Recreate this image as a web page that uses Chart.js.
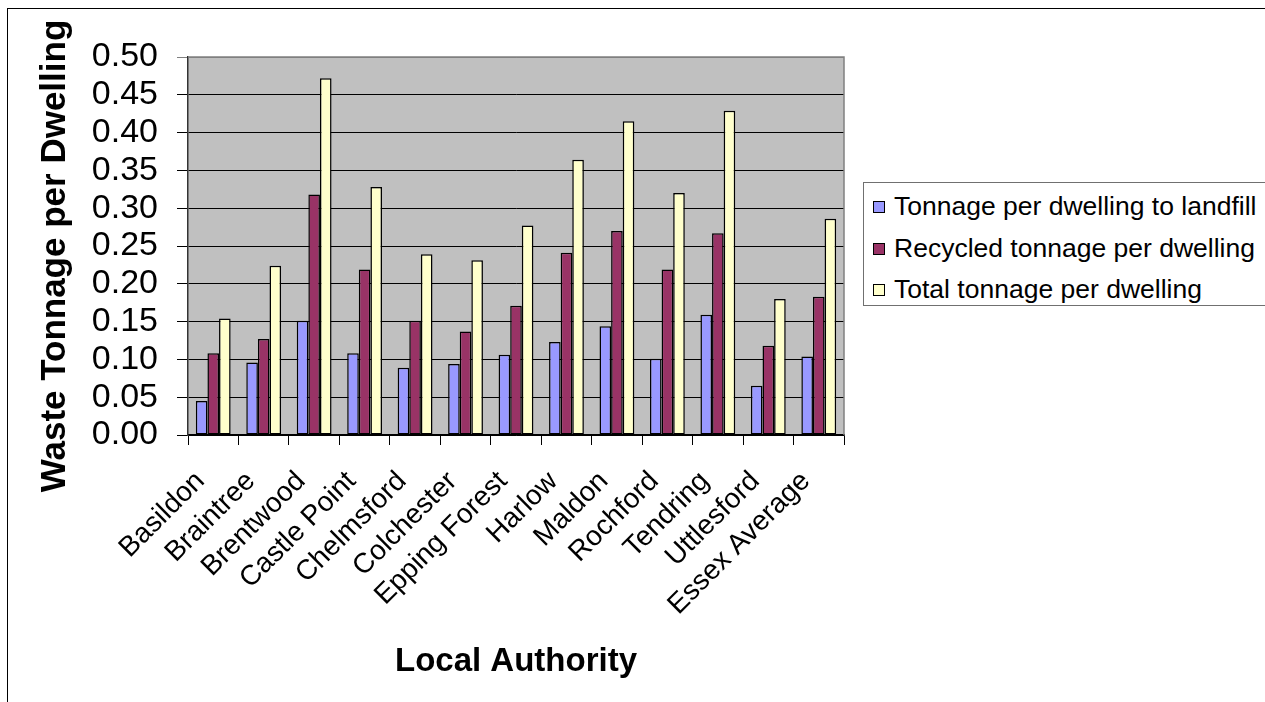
<!DOCTYPE html>
<html>
<head>
<meta charset="utf-8">
<script src="https://cdn.jsdelivr.net/npm/chart.js@4.4.1/dist/chart.umd.min.js"></script>
<style>
  html, body { margin: 0; padding: 0; background: #fff; }
  #wrap { position: relative; width: 1265px; height: 702px; overflow: hidden; font-family: "Liberation Sans", Arial, sans-serif; }
  #frame { position: absolute; left: 7px; top: 8px; width: 1400px; height: 800px; border-top: 1.5px solid #000; border-left: 1.5px solid #000; }
  #chart { position: absolute; left: 0; top: 0; }
  #legend { position: absolute; left: 863px; top: 182px; width: 420px; height: 124px; border: 1px solid #707070; background: #fff; box-sizing: border-box; }
  .item { position: absolute; left: 9px; height: 30px; line-height: 30px; font-size: 26.5px; color: #000; white-space: nowrap; }
  .sw { position: absolute; left: 0; top: 10px; width: 10px; height: 10px; border: 1px solid #000; }
  .lbl { position: absolute; left: 21px; top: 0; }
</style>
</head>
<body>
<div id="wrap">
  <div id="frame"></div>
  <canvas id="chart" width="1265" height="702"></canvas>
  <div id="legend"></div>
</div>
<script>
// Waste tonnage per dwelling by Essex local authority
const categories = ["Basildon", "Braintree", "Brentwood", "Castle Point", "Chelmsford", "Colchester",
  "Epping Forest", "Harlow", "Maldon", "Rochford", "Tendring", "Uttlesford", "Essex Average"];
const seriesNames = ["Tonnage per dwelling to landfill", "Recycled tonnage per dwelling", "Total tonnage per dwelling"];
const landfill = [0.045, 0.096, 0.151, 0.108, 0.089, 0.094, 0.106, 0.123, 0.144, 0.101, 0.159, 0.065, 0.104];
const recycled = [0.108, 0.127, 0.318, 0.219, 0.151, 0.137, 0.171, 0.241, 0.270, 0.219, 0.267, 0.118, 0.183];
const total = [0.154, 0.224, 0.472, 0.328, 0.239, 0.231, 0.277, 0.364, 0.415, 0.320, 0.429, 0.180, 0.286];
const yTicks = [0, 0.05, 0.10, 0.15, 0.20, 0.25, 0.30, 0.35, 0.40, 0.45, 0.50];
const colors = ["#9999FF", "#993366", "#FFFFCC"];

const FONT = '"Liberation Sans", Arial, sans-serif';

// grey plot background and frame around the chart area
const plotFrame = {
  id: 'plotFrame',
  beforeDraw(chart) {
    const { ctx, chartArea: a } = chart;
    ctx.save();
    ctx.fillStyle = '#C0C0C0';
    ctx.fillRect(a.left, a.top, a.right - a.left, a.bottom - a.top);
    ctx.restore();
  },
  afterDatasetsDraw(chart) {
    const { ctx, chartArea: a } = chart;
    ctx.save();
    ctx.strokeStyle = '#808080';
    ctx.lineWidth = 1.5;
    ctx.beginPath();
    ctx.moveTo(a.left, a.top);
    ctx.lineTo(a.right, a.top);
    ctx.lineTo(a.right, a.bottom);
    ctx.stroke();
    ctx.restore();
  }
};

// axis titles
const axisTitles = {
  id: 'axisTitles',
  afterDraw(chart) {
    const { ctx, chartArea: a } = chart;
    ctx.save();
    ctx.fillStyle = '#000';
    ctx.textAlign = 'center';
    ctx.textBaseline = 'alphabetic';
    ctx.font = 'bold 33px ' + FONT;
    ctx.fillText('Local Authority', (a.left + a.right) / 2, 671);
    ctx.font = 'bold 35px ' + FONT;
    ctx.translate(65, (a.top + a.bottom) / 2 + 10);
    ctx.rotate(-Math.PI / 2);
    ctx.fillText('Waste Tonnage per Dwelling', 0, 0);
    ctx.restore();
  }
};

const datasets = [landfill, recycled, total].map((vals, i) => ({
  label: seriesNames[i],
  data: vals,
  backgroundColor: colors[i],
  borderColor: '#000',
  borderWidth: 1.5,
  borderSkipped: false,
  barPercentage: 1.0,
  categoryPercentage: 0.69
}));

const chart = new Chart(document.getElementById('chart'), {
  type: 'bar',
  data: { labels: categories, datasets },
  options: {
    responsive: false,
    animation: false,
    devicePixelRatio: 1,
    layout: { padding: { left: 0, top: 57, right: 421, bottom: 0 } },
    plugins: { legend: { display: false }, tooltip: { enabled: false } },
    scales: {
      x: {
        afterFit(s) { s.height = 267; },
        grid: { offset: true, drawOnChartArea: false, drawTicks: true, tickLength: 10, color: '#000', lineWidth: 1 },
        border: { color: '#000', width: 1.5 },
        ticks: { minRotation: 45, maxRotation: 45, autoSkip: false, padding: 20, labelOffset: -13, color: '#000', font: { family: FONT, size: 28 } }
      },
      y: {
        min: 0, max: 0.5,
        afterFit(s) { s.width = 188; },
        afterBuildTicks(s) { s.ticks = yTicks.map(v => ({ value: v })); },
        grid: {
          color: c => (c.tick && c.tick.value === 0.5) ? '#808080' : '#000',
          lineWidth: 1, tickLength: 11, drawTicks: true
        },
        border: { color: '#333', width: 1.5 },
        ticks: { autoSkip: false, padding: 19, color: '#000', font: { family: FONT, size: 34 }, callback: v => Number(v).toFixed(2) }
      }
    }
  },
  plugins: [plotFrame, axisTitles]
});

// legend built from the chart's datasets
const legend = document.getElementById('legend');
chart.data.datasets.forEach((ds, i) => {
  const item = document.createElement('div');
  item.className = 'item';
  item.style.top = (8 + i * 41.5) + 'px';
  const sw = document.createElement('div');
  sw.className = 'sw';
  sw.style.background = ds.backgroundColor;
  const lbl = document.createElement('span');
  lbl.className = 'lbl';
  lbl.textContent = ds.label;
  item.appendChild(sw);
  item.appendChild(lbl);
  legend.appendChild(item);
});
</script>
</body>
</html>
